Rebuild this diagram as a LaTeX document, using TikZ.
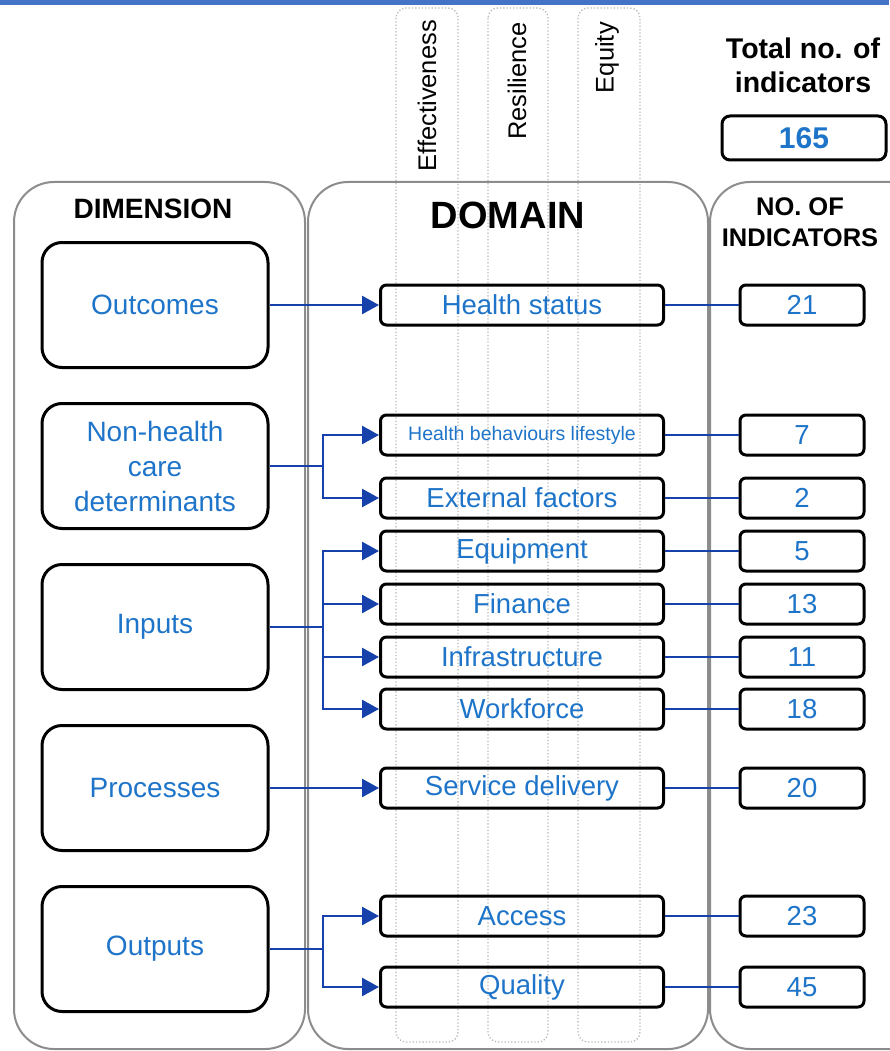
\documentclass[tikz,border=0pt]{standalone}
\usepackage{fontspec}
\setmainfont{Liberation Sans}
\usetikzlibrary{arrows.meta}

\begin{document}
\begin{tikzpicture}[x=1pt,y=-1pt]

	\definecolor{txtblue}{RGB}{30,116,200}
	\definecolor{lineblue}{RGB}{22,64,170}
	\definecolor{barblue}{RGB}{68,114,196}

	\tikzstyle{edge} = [draw,lineblue,line width=2.6pt]
	\tikzstyle{arrowedge} = [edge,-{Triangle[length=17pt,width=18pt]}]
	\tikzstyle{panel} = [draw=gray!90,line width=2pt,rounded corners=40pt]
	\tikzstyle{column} = [draw=gray!55,dotted,line width=1.3pt,rounded corners=10pt]

	\useasboundingbox (0,0) rectangle (889,1051);
	\fill[barblue] (0,0) rectangle (889,5);

	% dotted criteria columns
	\draw[column] (396,8) rectangle (458,1042);
	\draw[column] (488,8) rectangle (548,1042);
	\draw[column] (578,8) rectangle (640,1042);
	\tikzset{crit/.style = {rotate=90,anchor=east,inner sep=0,font=\fontsize{25.5}{28}\selectfont}}
	\node[crit] (eff) at (427,20) {Effectiveness};
	\node[crit] (res) at (517,22) {Resilience};
	\node[crit] (equ) at (607,22) {Equity};

	% outer panels
	\draw[panel] (14,182) rectangle (305,1049);
	\draw[panel] (308,182) rectangle (708,1049);
	\draw[panel] (710,182) rectangle (930,1049);

	\tikzset{head/.style = {align=center,font=\bfseries\fontsize{28}{31}\selectfont}}
	\node[head] (dimhead) at (153,209) {DIMENSION};
	\node[head,font=\bfseries\fontsize{38}{42}\selectfont] (domhead) at (508,215) {DOMAIN};
	\node[head,font=\bfseries\fontsize{25.5}{31}\selectfont] (cnthead) at (800,222) {NO. OF\\INDICATORS};
	\node[head,font=\bfseries\fontsize{28.5}{34}\selectfont] (tothead) at (803,65) {Total no. of\\indicators};
	\node[draw,line width=3pt,rounded corners=8pt,minimum width=164pt,minimum height=44pt,
		text=txtblue,font=\bfseries\fontsize{30}{32}\selectfont] (total) at (804,138) {165};

	% dimensions
	\tikzset{dim/.style = {shape=rectangle,draw,line width=3pt,rounded corners=20pt,
		minimum width=226pt,minimum height=125pt,align=center,text=txtblue,
		font=\fontsize{28}{35}\selectfont}}
	\node[dim] (outcomes) at (155,305) {Outcomes};
	\node[dim] (nonhealth) at (155,466) {Non-health\\care\\determinants};
	\node[dim] (inputs) at (155,627) {Inputs};
	\node[dim] (processes) at (155,788) {Processes};
	\node[dim] (outputs) at (155,949) {Outputs};

	% domains
	\tikzset{dom/.style = {shape=rectangle,draw,line width=3pt,rounded corners=6pt,
		minimum width=283pt,minimum height=40pt,inner sep=0,text=txtblue,
		font=\fontsize{27.5}{30}\selectfont}}
	\node[dom] (hstatus) at (522,305) {Health status};
	\node[dom,font=\fontsize{19.5}{22}\selectfont] (hbehav) at (522,435) {Health behaviours lifestyle};
	\node[dom] (external) at (522,498) {External factors};
	\node[dom] (equip) at (522,551) {Equipment};
	\node[dom] (finance) at (522,604) {Finance};
	\node[dom] (infra) at (522,657) {Infrastructure};
	\node[dom] (workforce) at (522,709) {Workforce};
	\node[dom] (service) at (522,788) {Service delivery};
	\node[dom] (access) at (522,916) {Access};
	\node[dom] (quality) at (522,987) {Quality};

	% counts
	\tikzset{cnt/.style = {dom,minimum width=124pt}}
	\node[cnt] (c21) at (802,305) {21};
	\node[cnt] (c7) at (802,435) {7};
	\node[cnt] (c2) at (802,498) {2};
	\node[cnt] (c5) at (802,551) {5};
	\node[cnt] (c13) at (802,604) {13};
	\node[cnt] (c11) at (802,657) {11};
	\node[cnt] (c18) at (802,709) {18};
	\node[cnt] (c20) at (802,788) {20};
	\node[cnt] (c23) at (802,916) {23};
	\node[cnt] (c45) at (802,987) {45};

	% dimension to domain
	\coordinate (bnh) at (323,466);
	\coordinate (bin) at (323,627);
	\coordinate (bout) at (323,949);
	\draw[arrowedge] (outcomes) -- (hstatus);
	\draw[edge] (nonhealth) -- (bnh);
	\draw[arrowedge] (bnh) |- (hbehav);
	\draw[arrowedge] (bnh) |- (external);
	\draw[edge] (inputs) -- (bin);
	\draw[arrowedge] (bin) |- (equip);
	\draw[arrowedge] (bin) |- (finance);
	\draw[arrowedge] (bin) |- (infra);
	\draw[arrowedge] (bin) |- (workforce);
	\draw[arrowedge] (processes) -- (service);
	\draw[edge] (outputs) -- (bout);
	\draw[arrowedge] (bout) |- (access);
	\draw[arrowedge] (bout) |- (quality);

	% domain to count
	\draw[edge] (hstatus) to (c21);
	\draw[edge] (hbehav) to (c7);
	\draw[edge] (external) to (c2);
	\draw[edge] (equip) to (c5);
	\draw[edge] (finance) to (c13);
	\draw[edge] (infra) to (c11);
	\draw[edge] (workforce) to (c18);
	\draw[edge] (service) to (c20);
	\draw[edge] (access) to (c23);
	\draw[edge] (quality) to (c45);
\end{tikzpicture}
\end{document}
